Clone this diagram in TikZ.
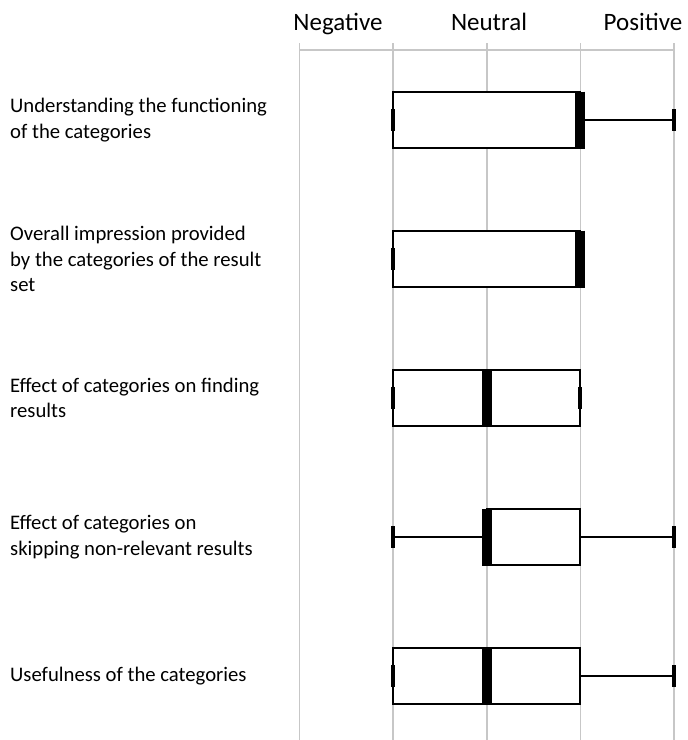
\documentclass[tikz,border=0pt]{standalone}
\usepackage{fontspec}
\setmainfont{Carlito}
\tikzset{
  gridline/.style={draw=black!22, line width=1.6pt},
  boxline/.style={draw=black, line width=1.8pt},
  whisker/.style={draw=black, line width=1.8pt},
  capbar/.style={draw=black, line width=4pt},
  medbar/.style={draw=black, line width=10pt},
  rowlabel/.style={anchor=west, align=left, inner sep=0pt,
                   font=\fontsize{20.7}{25.5}\selectfont},
  scalelabel/.style={anchor=base, inner sep=0pt,
                   font=\fontsize{25}{29}\selectfont},
}
\begin{document}
\begin{tikzpicture}[x=1pt, y=-1pt]
  \useasboundingbox (0,0) rectangle (688,740);
  % scale grid
  \foreach \k in {0,...,4} {
    \coordinate (gtop\k) at ({299.5+93.625*\k}, 43);
    \coordinate (gbot\k) at ({299.5+93.625*\k}, 740);
    \draw[gridline] (gtop\k) -- (gbot\k);
  }
  \coordinate (axl) at (299.5,50);
  \coordinate (axr) at (674,50);
  \draw[gridline] (axl) -- (axr);
  \node[scalelabel] (neg) at (338,30) {Negative};
  \node[scalelabel] (neu) at (489,30) {Neutral};
  \node[scalelabel] (pos) at (643,30) {Positive};
  % row labels
  \node[rowlabel] (lab1) at (10,120) {Understanding the functioning\\of the categories};
  \node[rowlabel] (lab2) at (10,259) {Overall impression provided\\by the categories of the result\\set};
  \node[rowlabel] (lab3) at (10,398) {Effect of categories on finding\\results};
  \node[rowlabel] (lab4) at (10,537) {Effect of categories on\\skipping non-relevant results};
  \node[rowlabel] (lab5) at (10,676) {Usefulness of the categories};
  % box plots: centre y / min / q1 / median / q3 / max
  \foreach \yc/\lo/\qa/\md/\qb/\hi in {120/1/1/3/3/4, 259/1/1/3/3/3,
      398/1/1/2/3/3, 537/1/2/2/3/4, 676/1/1/2/3/4} {
    \pgfmathsetmacro{\xlo}{299.5+93.625*\lo}
    \pgfmathsetmacro{\xqa}{299.5+93.625*\qa}
    \pgfmathsetmacro{\xmd}{299.5+93.625*\md}
    \pgfmathsetmacro{\xqb}{299.5+93.625*\qb}
    \pgfmathsetmacro{\xhi}{299.5+93.625*\hi}
    \ifnum\lo<\qa \draw[whisker] (\xlo,\yc) -- (\xqa,\yc); \fi
    \ifnum\qb<\hi \draw[whisker] (\xqb,\yc) -- (\xhi,\yc); \fi
    \draw[boxline, fill=white] (\xqa,\yc-28) rectangle (\xqb,\yc+28);
    \draw[medbar] (\xmd,\yc-28.5) -- (\xmd,\yc+28.5);
    \draw[capbar] (\xlo,\yc-11) -- (\xlo,\yc+11);
    \draw[capbar] (\xhi,\yc-11) -- (\xhi,\yc+11);
  }
\end{tikzpicture}
\end{document}
